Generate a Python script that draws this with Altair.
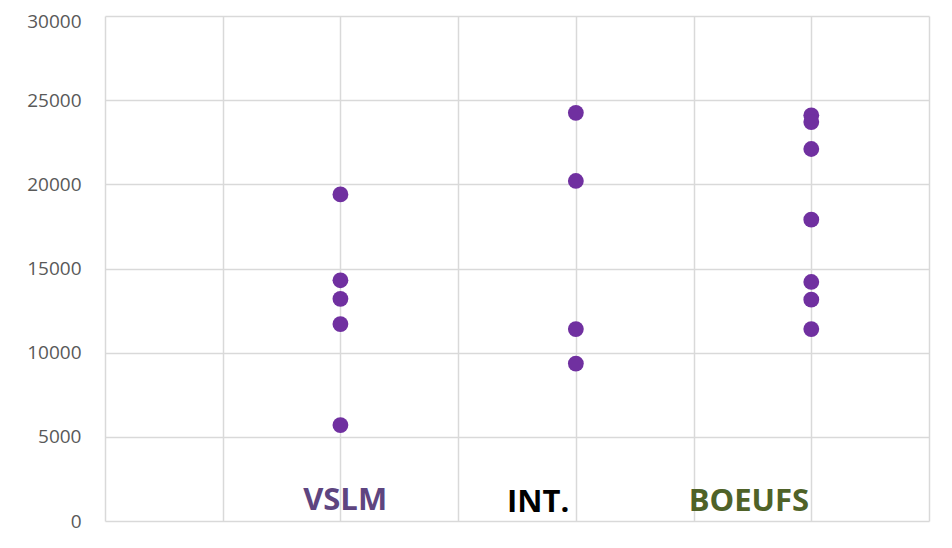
import altair as alt
import pandas as pd

# Data values
vslm = [19400, 14300, 13200, 11700, 5700]
intv = [24250, 20200, 11400, 9350]
boeufs = [24100, 23700, 22100, 17900, 14200, 13150, 11400]

group_x = [2, 4, 6]
groups = ["VSLM", "INT.", "BOEUFS"]

label_text = ["VSLM", "INT.", "BOEUFS"]
label_x = [2.04, 3.68, 5.47]
label_y = [650, 550, 600]
label_color = ["#5E4580", "#000000", "#4F6228"]

y_ticks = [0, 5000, 10000, 15000, 20000, 25000, 30000]

rows = []
for gx, vals in zip(group_x, [vslm, intv, boeufs]):
    for v in vals:
        rows.append({"x": gx, "y": v})
pts = pd.DataFrame(rows)

labels = pd.DataFrame({"t": label_text, "x": label_x, "y": label_y, "c": label_color})

xscale = alt.Scale(domain=[0, 7], nice=False, zero=False)
yscale = alt.Scale(domain=[0, 30000], nice=False)

points = alt.Chart(pts).mark_circle(size=250, color="#7030A0", opacity=1).encode(
    x=alt.X("x:Q", scale=xscale,
            axis=alt.Axis(values=[0, 1, 2, 3, 4, 5, 6, 7], labels=False, ticks=False,
                          domain=False, title=None, grid=True)),
    y=alt.Y("y:Q", scale=yscale,
            axis=alt.Axis(values=y_ticks,
                          format="d", ticks=False, domain=False, title=None,
                          labelPadding=24, labelFontSize=19, labelColor="#595959",
                          labelFont="Open Sans", grid=True,
                          labelOffset={"condition": {"test": "datum.value == 30000", "value": 5},
                                       "value": 0})),
)

text = alt.Chart(labels).mark_text(font="Open Sans", fontWeight="bold", fontSize=31,
                                   baseline="alphabetic", align="center").encode(
    x=alt.X("x:Q", scale=xscale),
    y=alt.Y("y:Q", scale=yscale),
    text="t:N",
    color=alt.Color("c:N", scale=None),
)

chart = (points + text).properties(
    width=824, height=505,
    autosize=alt.AutoSizeParams(type="none"),
    padding={"left": 97, "top": 8, "right": 15, "bottom": 15},
).configure_view(stroke=None).configure_axis(
    gridColor="#D9D9D9", gridWidth=1.5
)

chart.save("out.html", embed_options={"renderer": "svg", "actions": False})
